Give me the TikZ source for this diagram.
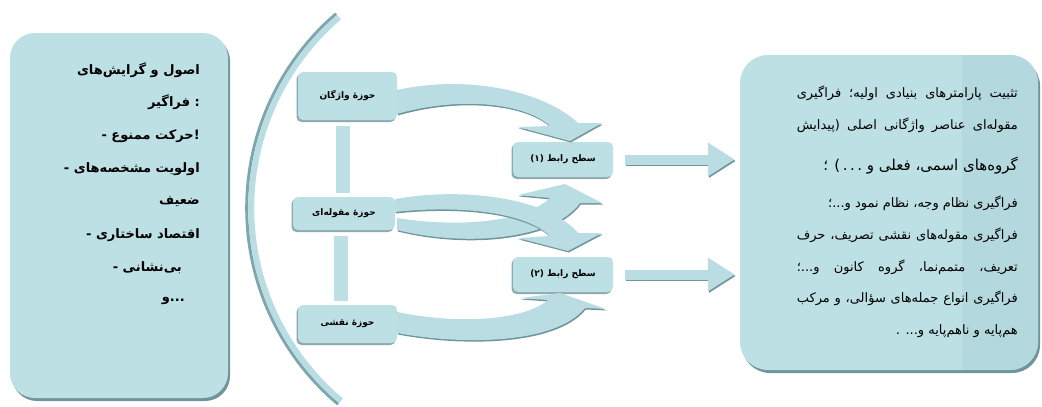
\documentclass[tikz,border=0pt]{standalone}
\usepackage{fontspec}
\newfontfamily\fa[Script=Arabic]{DejaVu Sans}
\TeXXeTstate=1
\usetikzlibrary{arrows.meta,shadows}
\definecolor{tealfill}{HTML}{BDE0E4}
\definecolor{tealdark}{HTML}{B3D8DD}
\definecolor{shadowc}{HTML}{6F959B}
\definecolor{arrowc}{HTML}{B9DDE2}
\definecolor{arcc}{HTML}{B9DDE2}
\definecolor{arcedge}{HTML}{7EA6AB}
\newcommand{\rjline}[1]{\hbox to 221pt{\beginR #1\endR}}
\begin{document}
\begin{tikzpicture}[x=1pt,y=-1pt,
  bigbox/.style={draw=none, fill=tealfill, inner sep=0pt,
    drop shadow={shadow xshift=2pt, shadow yshift=-3pt, fill=shadowc, opacity=1}},
  smallbox/.style={draw=none, fill=tealfill, rounded corners=5pt, inner sep=0pt,
    font=\fa\bfseries\fontsize{9}{11}\selectfont,
    drop shadow={shadow xshift=-1.5pt, shadow yshift=-2pt, fill=shadowc!80, opacity=1}},
  barline/.style={line width=14pt, tealfill, shorten <=6pt, shorten >=4pt},
  bandarrow/.style={fill=arrowc,
    drop shadow={shadow xshift=0.8pt, shadow yshift=-1.5pt, fill=shadowc, opacity=1}},
  blockarr/.style={line width=10pt, arrowc, shorten <=12pt, shorten >=5pt,
    -{Triangle[length=27pt,width=32pt]}},
  blockshadow/.style={line width=10pt, shadowc, shorten <=12pt, shorten >=5pt,
    -{Triangle[length=27pt,width=32pt]}},
  ltxt/.style={font=\fa\bfseries\fontsize{13}{15}\selectfont, inner sep=0pt, anchor=base east},
  rtxt/.style={font=\fa\fontsize{13}{15}\selectfont, inner sep=0pt, anchor=base east},
]
\useasboundingbox (0,0) rectangle (1042,407);

% ---------- big arc ----------
\coordinate (ac) at (502.7,208.1);
\draw[line width=3pt, arcedge] (ac) ++(130.6:256pt) arc[start angle=130.6, end angle=230, radius=256pt];
\draw[line width=6pt, arcc] (ac) ++(130.6:251.5pt) arc[start angle=130.6, end angle=230, radius=251.5pt];

% ---------- left box ----------
\node[bigbox, rounded corners=25pt, minimum width=218pt, minimum height=365pt] (lbox) at (119,215.5) {};
\node[ltxt] (l1) at (200,74) {\beginR اصول و گرایش‌های\endR};
\node[ltxt] (l2) at (200,106) {\beginR فراگیر\endR\ :};
\node[ltxt] (l3) at (200,139) {-\ \beginR حرکت ممنوع\endR!};
\node[ltxt] (l4) at (200,172) {-\ \beginR اولویت مشخصه‌های\endR};
\node[ltxt] (l5) at (200,204) {\beginR ضعیف\endR};
\node[ltxt] (l6) at (200,238) {-\ \beginR اقتصاد ساختاری\endR};
\node[ltxt] (l7) at (182,271) {-\ \beginR بی‌نشانی\endR};
\node[ltxt] (l8) at (185,301) {\beginR و\endR...};

% ---------- right box ----------
\node[bigbox, rounded corners=28pt, minimum width=298pt, minimum height=315pt] (rbox) at (889,212.5) {};
\begin{scope}
  \clip[rounded corners=28pt] (740,55) rectangle (1038,370);
  \fill[tealdark] (962,55) rectangle (1040,370);
\end{scope}
\node[rtxt] (r1) at (1018,97) {\rjline{تثبیت پارامترهای بنیادی اولیه؛ فراگیری}};
\node[rtxt] (r2) at (1018,129) {\rjline{مقوله‌ای عناصر واژگانی اصلی (پیدایش}};
\node[rtxt, font=\fa\fontsize{15}{17}\selectfont] (r3) at (1018,170) {\beginR گروه‌های اسمی، فعلی و .\,.\,.\,) ؛\endR};
\node[rtxt] (r4) at (1018,207) {\beginR فراگیری نظام وجه، نظام نمود و...؛\endR};
\node[rtxt] (r5) at (1018,239) {\rjline{فراگیری مقوله‌های نقشی تصریف، حرف}};
\node[rtxt] (r6) at (1018,271) {\rjline{تعریف، متمم‌نما، گروه کانون و...؛}};
\node[rtxt] (r7) at (1018,302) {\rjline{فراگیری انواع جمله‌های سؤالی، و مرکب}};
\node[rtxt] (r8) at (1018,334) {\beginR هم‌پایه و ناهم‌پایه و... .\endR};

% ---------- domain boxes ----------
\node[smallbox, minimum width=99pt, minimum height=48pt] (b1) at (347.5,96) {\beginR حوزهٔ واژگان\endR};
\node[smallbox, minimum width=102pt, minimum height=33pt] (b2) at (344,213.5) {\beginR حوزهٔ مقوله‌ای\endR};
\node[smallbox, minimum width=99pt, minimum height=38pt] (b3) at (347.5,324) {\beginR حوزهٔ نقشی\endR};

\coordinate (x1) at (343,0);
\coordinate (x2) at (341,0);
\draw[barline] (b1.south -| x1) -- (b2.north -| x1);
\draw[barline] (b2.south -| x2) -- (b3.north -| x2);

% ---------- interface boxes ----------
\node[smallbox, minimum width=100pt, minimum height=35pt] (s1) at (563,159.5) {\beginR سطح رابط (۱)\endR};
\node[smallbox, minimum width=100pt, minimum height=35pt] (s2) at (563,274.5) {\beginR سطح رابط (۲)\endR};

% ---------- curved band arrows ----------
% b1 -> s1
\path[bandarrow] (397,90) .. controls (470,74) and (545,92) .. (578,123) -- (602,123) -- (570,141)
  -- (518,127) -- (550,126) .. controls (525,103) and (460,96) .. (397,114) -- cycle;
% b2 -> s1 (up)
\path[bandarrow] (397,230) .. controls (470,248) and (555,238) .. (580,203) -- (602,203) -- (565,184)
  -- (518,195) -- (550,198) .. controls (525,222) and (460,228) .. (397,218) -- cycle;
% b2 -> s2 (down)
\path[bandarrow] (395,199) .. controls (470,186) and (550,200) .. (578,233) -- (602,233) -- (568,251)
  -- (518,238) -- (550,236) .. controls (525,212) and (460,205) .. (395,212) -- cycle;
% b3 -> s2 (up)
\path[bandarrow] (397,312) .. controls (460,325) and (525,320) .. (548,300) -- (520,298) -- (560,293)
  -- (606,309) -- (585,308) .. controls (555,345) and (460,345) .. (397,333) -- cycle;

% ---------- straight block arrows ----------
\draw[blockshadow, transform canvas={shift={(1pt,-1.5pt)}}] (s1.east) -- (s1.east -| rbox.west);
\draw[blockarr] (s1.east) -- (s1.east -| rbox.west);
\draw[blockshadow, transform canvas={shift={(1pt,-1.5pt)}}] (s2.east) -- (s2.east -| rbox.west);
\draw[blockarr] (s2.east) -- (s2.east -| rbox.west);
\end{tikzpicture}
\end{document}
